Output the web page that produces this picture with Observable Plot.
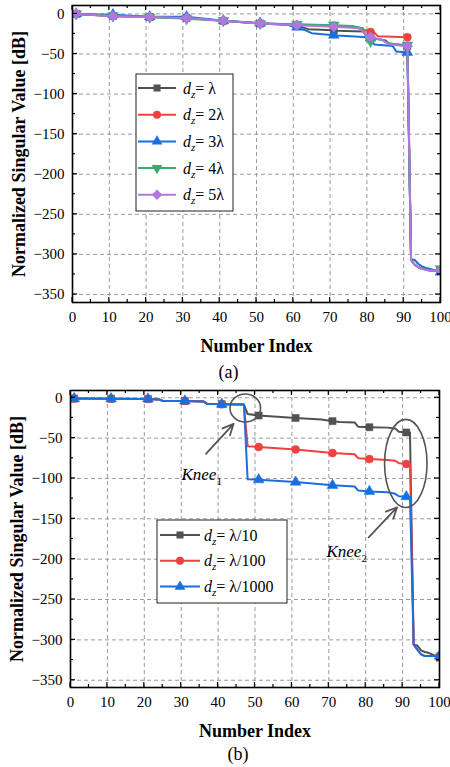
<!DOCTYPE html>
<html><head><meta charset="utf-8">
<script src="https://cdn.jsdelivr.net/npm/d3@7"></script>
<script src="https://cdn.jsdelivr.net/npm/@observablehq/plot@0.6"></script>
<style>
html,body{margin:0;padding:0;background:#fff;overflow:hidden;}
#wrap{width:450px;}
#wrap svg{display:block;}
</style></head><body><div id="wrap"></div>
<script>
// ---------- shared tick values ----------
const xTicks = [0, 10, 20, 30, 40, 50, 60, 70, 80, 90, 100];
const xMinor = [5, 15, 25, 35, 45, 55, 65, 75, 85, 95];
const yTicks = [0, -50, -100, -150, -200, -250, -300, -350];
const yMinor = [-25, -75, -125, -175, -225, -275, -325];
const markerIdx = [1, 11, 21, 31, 41, 51, 61, 71, 81, 91, 100];

// ---------- panel (a) ----------
const aLabels = ["λ", "2λ", "3λ", "4λ", "5λ"];
const aColors = ["#515151", "#F14040", "#1A6FDF", "#37AD6B", "#B177DE"];
const a1x = [1, 11, 21, 31, 41, 51, 61, 64, 71, 72, 79, 80, 81, 85, 86, 91, 92, 93, 94, 95, 96, 97, 100];
const a1y = [0, -2.5, -3.8, -5, -8.5, -12, -14, -19, -20.5, -21, -22, -28, -30, -33, -37, -40, -307, -313, -316, -318, -319, -320, -320];
const a2x = [1, 11, 21, 31, 41, 51, 61, 71, 77, 80, 81, 82, 83, 91, 92, 93, 94, 95, 96, 97, 100];
const a2y = [0, -2.5, -3.8, -5, -8.5, -12, -13.5, -14.5, -17, -21, -22.5, -23, -28, -29, -307, -313, -316, -318, -319, -320, -320];
const a3x = [1, 11, 21, 31, 41, 51, 58, 60, 61, 63, 65, 71, 72, 80, 81, 82, 87, 88, 91, 92, 93, 94, 95, 96, 97, 98, 99, 100];
const a3y = [0, -1, -3.5, -3.5, -8.5, -11.5, -13, -16, -16.5, -20, -24, -26.5, -27, -29, -30, -38, -40, -47, -48, -306, -307, -312, -315, -317, -318, -319, -320, -322];
const a4x = [1, 11, 21, 31, 41, 51, 61, 71, 76, 79, 80, 81, 82, 84, 86, 91, 92, 93, 94, 95, 96, 97, 99, 100];
const a4y = [0, -2.5, -4, -6, -8.5, -12, -13, -14, -15, -18, -32, -34, -31, -32, -37, -39, -307, -313, -316, -318, -319, -320, -320, -318];
const a5x = [1, 11, 21, 31, 41, 51, 61, 71, 78, 80, 81, 84, 86, 91, 92, 93, 94, 95, 96, 97, 100];
const a5y = [0, -2.8, -4, -5.2, -8.5, -12, -14, -16, -18, -27, -29, -32, -38, -40, -307, -313, -316, -318, -319, -320, -320];

// ---------- panel (b) ----------
const bLabels = ["λ/10", "λ/100", "λ/1000"];
const bColors = ["#515151", "#F14040", "#1A6FDF"];
const b1x = [1, 11, 21, 24, 25, 31, 36, 37, 41, 47, 48, 51, 61, 68, 71, 73, 77, 78, 81, 86, 88, 89, 91, 92, 93, 94, 95, 96, 97, 98, 99, 100];
const b1y = [-1, -1.2, -1.5, -2, -4, -4, -4.5, -7.5, -8, -8.5, -20, -22, -25, -27, -29, -30, -30.5, -36, -36.5, -37, -38, -42, -43, -43, -306, -307, -313, -315, -316, -318, -320, -322];
const b2x = [1, 11, 21, 24, 25, 31, 36, 37, 41, 47, 48, 51, 61, 71, 77, 78, 81, 86, 88, 89, 91, 92, 93, 94, 95, 96, 100];
const b2y = [-1, -1.2, -1.5, -2, -4, -4, -4.5, -7.5, -8, -8.5, -60, -61, -64, -68.5, -70, -75, -76, -77, -78, -81, -82, -82, -306, -312, -318, -320, -320];
const b3x = [1, 11, 21, 24, 25, 31, 36, 37, 41, 47, 48, 51, 61, 71, 77, 78, 81, 86, 88, 89, 91, 92, 93, 94, 95, 96, 100];
const b3y = [-1, -1.2, -1.5, -2, -4, -4, -4.5, -7.5, -8, -8.5, -101, -101.5, -104.5, -108.5, -110, -115, -116, -117, -119, -122, -122.5, -123, -306, -312, -318, -320, -320];

// knee annotations (panel b)
const kneeX = [47.5, 91], kneeY = [-13.3, -82], kneeRx = [4.15, 5.75], kneeRy = [17.3, 54.6];
const kneeLabelX = [30.2, 69.5], kneeLabelY = [-102.6, -197.8], kneeSub = ["1", "2"];
const arrowX1 = [36.7, 80.8], arrowY1 = [-69.5, -173], arrowX2 = [44.2, 88.5], arrowY2 = [-32.3, -135.7];

// ---------- helpers ----------
const FONT = "'Liberation Serif','Times New Roman',serif";
const triDown = {draw(ctx, size) {
  const y = -Math.sqrt(size / (Math.sqrt(3) * 3));
  ctx.moveTo(0, -y * 2); ctx.lineTo(-Math.sqrt(3) * y, y); ctx.lineTo(Math.sqrt(3) * y, y); ctx.closePath();
}};
const symbolsA = ["square", "circle", "triangle", triDown, "diamond2"];
const d3Sym = {square: d3.symbolSquare, circle: d3.symbolCircle, triangle: d3.symbolTriangle, diamond2: d3.symbolDiamond2};
const symSize = [50, 50, 50, 50, 70];
const minus = d => d < 0 ? "\u2212" + Math.abs(d) : String(d);

function rows(xs, ys) { return xs.map((x, i) => ({x, y: ys[i]})); }

function tickMarks() {
  return (index, {x, y}, values, dims) => {
    const L = dims.marginLeft, R = dims.width - dims.marginRight, T = dims.marginTop, B = dims.height - dims.marginBottom;
    const g = d3.create("svg:g").attr("stroke", "black").attr("stroke-width", 1.2).attr("fill", "none");
    const add = (x1, y1, x2, y2) => g.append("line").attr("x1", x1).attr("y1", y1).attr("x2", x2).attr("y2", y2);
    for (const [arr, len] of [[xTicks, 5], [xMinor, 3]]) for (const v of arr) { const px = x(v); add(px, B, px, B - len); add(px, T, px, T + len); }
    for (const [arr, len] of [[yTicks, 5], [yMinor, 3]]) for (const v of arr) { const py = y(v); add(L, py, L + len, py); add(R, py, R - len, py); }
    return g.node();
  };
}

function legendMark(labels, colors, syms, box) {
  return () => {
    const g = d3.create("svg:g");
    g.append("rect").attr("x", box.x).attr("y", box.y).attr("width", box.w).attr("height", box.h)
      .attr("fill", "white").attr("stroke", "#222").attr("stroke-width", 1);
    labels.forEach((lab, i) => {
      const cy = box.row0 + i * box.step;
      g.append("line").attr("x1", box.l0).attr("x2", box.l1).attr("y1", cy).attr("y2", cy)
        .attr("stroke", colors[i]).attr("stroke-width", 2);
      const s = syms[i];
      const type = typeof s === "string" ? d3Sym[s] : s;
      g.append("path").attr("d", d3.symbol(type, symSize[i])()).attr("fill", colors[i])
        .attr("transform", `translate(${(box.l0 + box.l1) / 2},${cy})`);
      const t = g.append("text").attr("x", box.tx).attr("y", cy).attr("dy", "0.35em")
        .attr("text-anchor", "start")
        .attr("font-size", 16).attr("font-family", FONT).attr("fill", "black");
      t.append("tspan").attr("font-style", "italic").text("d");
      t.append("tspan").attr("font-style", "italic").attr("font-size", 11).attr("dy", 4).text("z");
      t.append("tspan").attr("dy", -4).text("= " + lab);
    });
    return g.node();
  };
}

function kneeMarks() {
  return (index, {x, y}) => {
    const g = d3.create("svg:g");
    kneeX.forEach((kx, i) => {
      g.append("ellipse").attr("cx", x(kx)).attr("cy", y(kneeY[i]))
        .attr("rx", x(kx + kneeRx[i]) - x(kx)).attr("ry", y(kneeY[i] - kneeRy[i]) - y(kneeY[i]))
        .attr("fill", "none").attr("stroke", "#555").attr("stroke-width", 1.6);
      const t = g.append("text").attr("x", x(kneeLabelX[i])).attr("y", y(kneeLabelY[i]))
        .attr("text-anchor", "start")
        .attr("font-size", 17).attr("font-family", FONT).attr("fill", "black");
      t.append("tspan").attr("font-style", "italic").text("Knee");
      t.append("tspan").attr("font-size", 11).attr("dy", 5).text(kneeSub[i]);
    });
    return g.node();
  };
}

function panel(cfg) {
  const marks = [
    Plot.gridX(xTicks, {stroke: "#9a9a9a", strokeOpacity: 1, strokeDasharray: "4,3", strokeWidth: 1}),
    Plot.gridY(yTicks, {stroke: "#9a9a9a", strokeOpacity: 1, strokeDasharray: "4,3", strokeWidth: 1})
  ];
  cfg.series.forEach((s, i) => {
    const data = rows(s.x, s.y);
    marks.push(Plot.line(data, {x: "x", y: "y", stroke: cfg.colors[i], strokeWidth: 2, clip: true}));
    marks.push(Plot.dot(data.filter(d => markerIdx.includes(d.x)),
      {x: "x", y: "y", fill: cfg.colors[i], stroke: cfg.colors[i], strokeWidth: 0.5, symbol: cfg.symbols[i], r: i === 4 ? 4.8 : 4, clip: true}));
  });
  marks.push(...(cfg.extra || []));
  marks.push(
    Plot.frame({stroke: "black", strokeWidth: 1.6}),
    tickMarks(),
    Plot.axisX({ticks: xTicks, tickSize: 0, tickPadding: 9, label: null, tickFormat: minus, fontSize: 15}),
    Plot.axisY({ticks: yTicks, tickSize: 0, tickPadding: 8, label: null, tickFormat: minus, fontSize: 15}),
    Plot.text(["Normalized Singular Value [dB]"], {frameAnchor: "left", textAnchor: "middle", rotate: -90, dx: -53, fontWeight: "bold", fontSize: 18, lineAnchor: "middle"}),
    Plot.text(["Number Index"], {frameAnchor: "bottom", textAnchor: "middle", dy: cfg.titleDy, fontWeight: "bold", fontSize: 18, lineAnchor: "middle"}),
    Plot.text([cfg.tag], {frameAnchor: "bottom", textAnchor: "middle", dx: cfg.tagDx, dy: cfg.tagDy, fontSize: 18, lineAnchor: "middle"}),
    cfg.legend
  );
  return Plot.plot({
    width: 450, height: cfg.height,
    marginTop: cfg.mt, marginBottom: cfg.mb, marginLeft: cfg.ml, marginRight: cfg.mr,
    style: {fontFamily: FONT, fontSize: "15px", color: "black", background: "white", overflow: "hidden"},
    x: {domain: [0, 100]},
    y: {domain: cfg.yDomain},
    marks
  });
}

const wrap = document.getElementById("wrap");
wrap.append(panel({
  height: 385, mt: 5, mb: 83, ml: 72, mr: 10, yDomain: [-360, 10.5],
  series: [{x: a1x, y: a1y}, {x: a2x, y: a2y}, {x: a3x, y: a3y}, {x: a4x, y: a4y}, {x: a5x, y: a5y}],
  colors: aColors, symbols: symbolsA,
  titleDy: 44, tag: "(a)", tagDx: -28, tagDy: 70,
  legend: legendMark(aLabels, aColors, symbolsA, {x: 136, y: 74, w: 97, h: 137, row0: 88, step: 26.7, l0: 138, l1: 176, tx: 183})
}));
wrap.append(panel({
  height: 382, mt: 5, mb: 80, ml: 70, mr: 11, yDomain: [-359, 9],
  series: [{x: b1x, y: b1y}, {x: b2x, y: b2y}, {x: b3x, y: b3y}],
  colors: bColors, symbols: ["square", "circle", "triangle"],
  titleDy: 43.5, tag: "(b)", tagDx: -17, tagDy: 66.5,
  extra: [
    Plot.arrow(d3.range(2), {x1: i => arrowX1[i], y1: i => arrowY1[i], x2: i => arrowX2[i], y2: i => arrowY2[i], stroke: "#555", strokeWidth: 1.8, headLength: 10, headAngle: 50}),
    kneeMarks()
  ],
  legend: legendMark(bLabels, bColors, ["square", "circle", "triangle"], {x: 157, y: 135, w: 130, h: 83, row0: 150, step: 25.8, l0: 160, l1: 200, tx: 204})
}));
</script></body></html>
